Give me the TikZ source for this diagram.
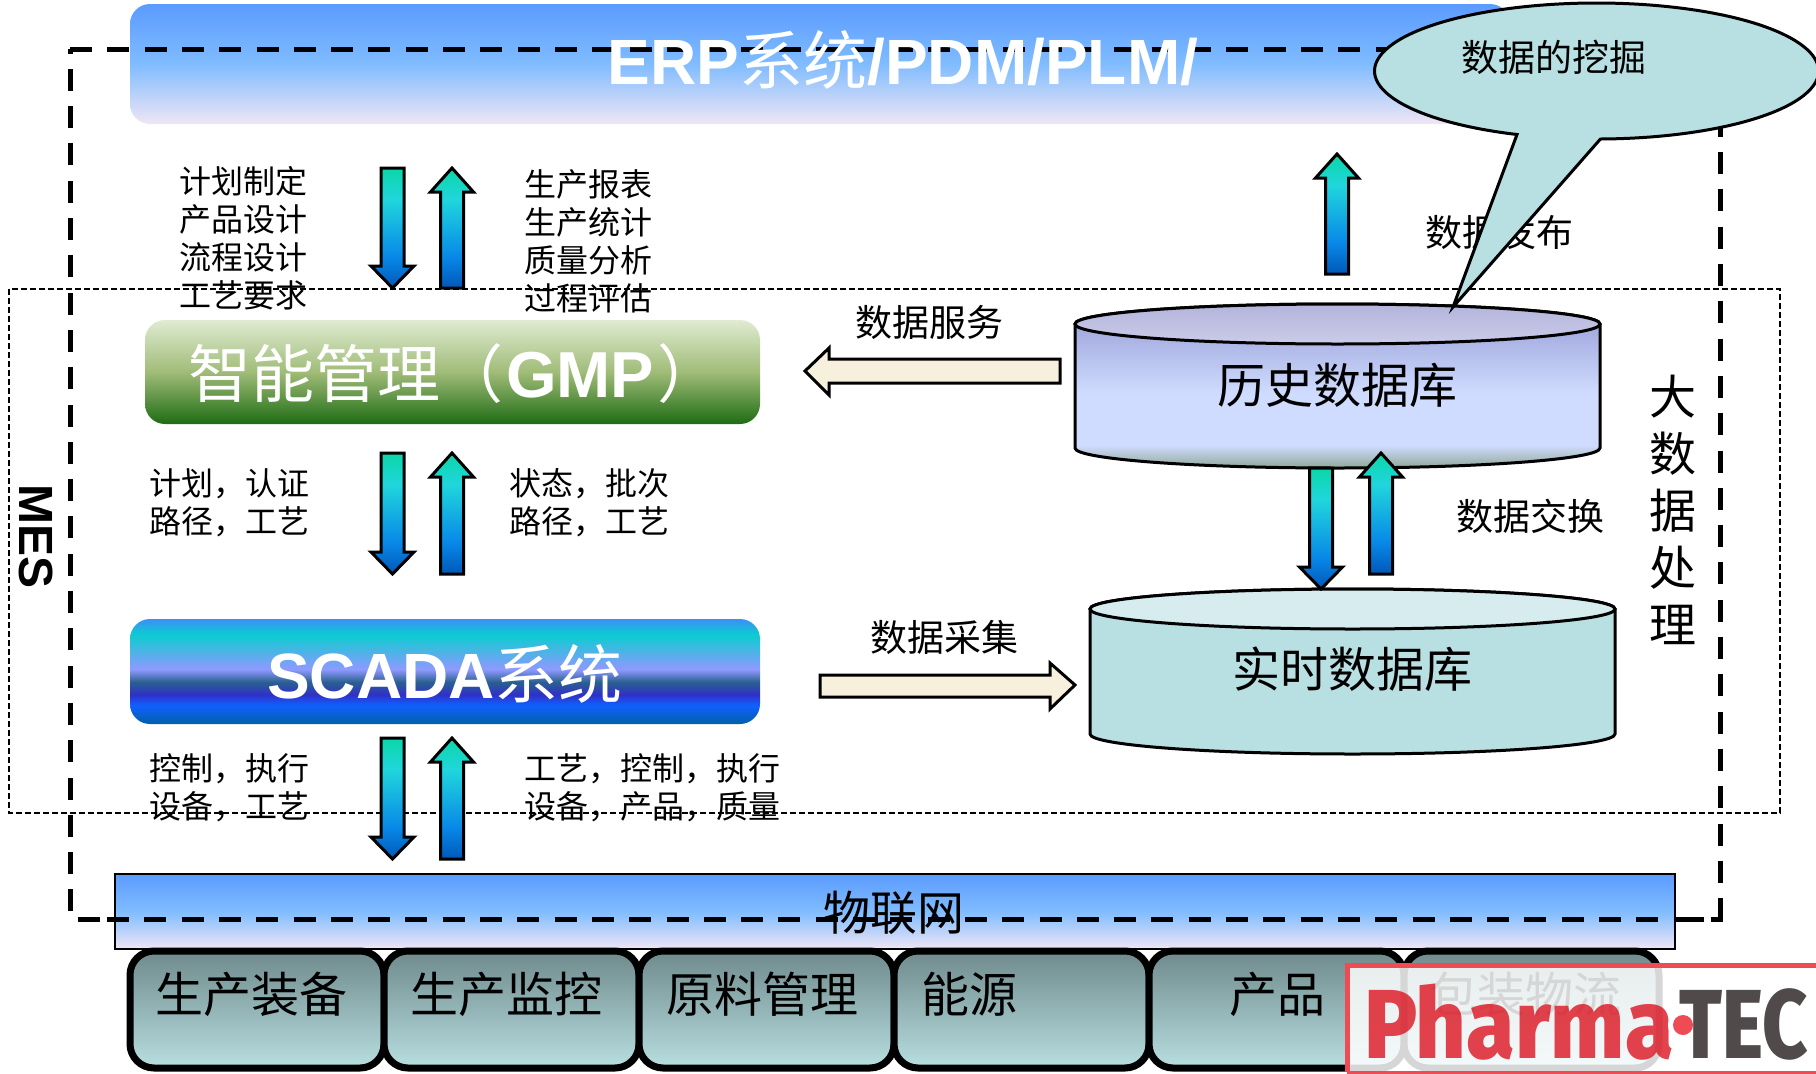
\documentclass[tikz,border=0pt]{standalone}
\usepackage{fontspec}
\newfontfamily\cjk{Noto Sans CJK SC}
\newfontfamily\lat{Liberation Sans}
\newfontfamily\wm{Fira Sans ExtraBold}
\definecolor{eA}{HTML}{5B9BFF}\definecolor{eB}{HTML}{80BCFF}\definecolor{eC}{HTML}{F0E6F5}
\pgfdeclareverticalshading{erpshade}{100bp}{color(0bp)=(eC);color(25bp)=(eC);color(50bp)=(eB);color(75bp)=(eA);color(100bp)=(eA)}
\definecolor{gA}{HTML}{E0EBD2}\definecolor{gB}{HTML}{A0BC78}\definecolor{gC}{HTML}{1E6C14}
\pgfdeclareverticalshading{gmpshade}{100bp}{color(0bp)=(gC);color(25bp)=(gC);color(50bp)=(gB);color(75bp)=(gA);color(100bp)=(gA)}
\definecolor{sA}{HTML}{3A90F8}\definecolor{sB}{HTML}{0CCCD0}\definecolor{sC}{HTML}{8F99FF}\definecolor{sD}{HTML}{2A6090}\definecolor{sE}{HTML}{3030C8}\definecolor{sF}{HTML}{1060FF}\definecolor{sG}{HTML}{0060A8}
\pgfdeclareverticalshading{scadashade}{100bp}{color(0bp)=(sG);color(25bp)=(sG);color(34bp)=(sF);color(39bp)=(sE);color(45bp)=(sD);color(51bp)=(sC);color(67.5bp)=(sB);color(75bp)=(sA);color(100bp)=(sA)}
\definecolor{aA}{HTML}{0BD6A8}\definecolor{aB}{HTML}{20D6DC}\definecolor{aC}{HTML}{0888E8}\definecolor{aD}{HTML}{0058B8}
\pgfdeclareverticalshading{arrowshade}{100bp}{color(0bp)=(aD);color(25bp)=(aD);color(38bp)=(aC);color(62bp)=(aB);color(75bp)=(aA);color(100bp)=(aA)}
\definecolor{bA}{HTML}{6F8A8C}\definecolor{bB}{HTML}{B8DFE1}
\pgfdeclareverticalshading{boxshade}{100bp}{color(0bp)=(bB);color(25bp)=(bB);color(75bp)=(bA);color(100bp)=(bA)}
\definecolor{cA}{HTML}{A0A8DC}\definecolor{cB}{HTML}{D0DCFF}\definecolor{cC}{HTML}{90A898}
\pgfdeclareverticalshading{histshade}{100bp}{color(0bp)=(cC);color(25bp)=(cC);color(32bp)=(cB);color(47.5bp)=(cB);color(69bp)=(cA);color(100bp)=(cA)}
\definecolor{cD}{HTML}{B4B4DC}\definecolor{cE}{HTML}{CACCE8}
\pgfdeclareverticalshading{histtop}{100bp}{color(0bp)=(cE);color(25bp)=(cE);color(75bp)=(cD);color(100bp)=(cD)}
\definecolor{hA}{HTML}{F7F0DC}\definecolor{hB}{HTML}{F0E8C8}
\definecolor{tealfill}{HTML}{B8DFE1}\definecolor{tealtop}{HTML}{D6ECEE}
\definecolor{wmred}{HTML}{DC0F1C}\definecolor{wmgrey}{HTML}{504A4A}\definecolor{wmline}{HTML}{EE4B55}
\tikzset{
  blk/.style={font=\cjk\fontsize{#1}{#1}\selectfont,inner sep=0pt,text=black},
  lst/.style={font=\cjk\fontsize{32}{38}\selectfont,align=left,anchor=west,inner sep=0pt,text=black},
  blockarrow/.style={draw=black,line width=3pt,shading=arrowshade,line join=miter},
  hollow/.style={draw=black,line width=3pt,fill=hA,line join=miter},
  thickdash/.style={draw=black,line width=5pt,dash pattern=on 22pt off 15.3pt},
  thindash/.style={draw=black,line width=2.2pt,dash pattern=on 6pt off 3pt},
  botbox/.style={draw=black,line width=7pt,rounded corners=24pt,shading=boxshade},
  botlabel/.style={font=\cjk\fontsize{48}{48}\selectfont,anchor=west,inner sep=0pt,text=black}
}
\newcommand{\dnarrow}[3]{\shadedraw[blockarrow] ({#1-11.5},#2) -- ({#1+11.5},#2) -- ({#1+11.5},{#3-22}) -- ({#1+21.5},{#3-22}) -- (#1,#3) -- ({#1-21.5},{#3-22}) -- ({#1-11.5},{#3-22}) -- cycle;}
\newcommand{\uparrowblk}[3]{\shadedraw[blockarrow] ({#1-11.5},#3) -- ({#1+11.5},#3) -- ({#1+11.5},{#2+24}) -- ({#1+21.5},{#2+24}) -- (#1,#2) -- ({#1-21.5},{#2+24}) -- ({#1-11.5},{#2+24}) -- cycle;}
\begin{document}
\begin{tikzpicture}[x=1pt,y=-1pt]
\useasboundingbox (0,0) rectangle (1816,1074);
\clip (0,0) rectangle (1816,1074);
% top band
\shade[shading=erpshade,rounded corners=20pt] (130,4) rectangle (1510,124);
\draw[thickdash] (70,49) -- (1720,49) -- (1720,919) -- (70,919) -- cycle;
\node[font=\lat\bfseries\fontsize{64}{64}\selectfont,text=white,inner sep=0pt] (erp) at (903,60) {ERP{\cjk\mdseries 系统}/PDM/PLM/};
% lists
\node[lst] (l1) at (179,238) {计划制定\\产品设计\\流程设计\\工艺要求};
\node[lst] (r1) at (524,241) {生产报表\\生产统计\\质量分析\\过程评估};
\dnarrow{392.5}{168}{288}
\uparrowblk{452}{168}{288}
\draw[thindash] (9,289) rectangle (1780,813);
% GMP
\shade[shading=gmpshade,rounded corners=20pt] (145,320) rectangle (760,424);
\node[font=\cjk\fontsize{63}{63}\selectfont,text=white,anchor=west,inner sep=0pt] (gmp) at (188,374) {智能管理（\hspace{3pt}{\lat\bfseries\fontsize{65}{65}\selectfont GMP}\hspace{3pt}）};
\node[lst] (l2) at (149,503) {计划，认证\\路径，工艺};
\node[lst] (r2) at (509,503) {状态，批次\\路径，工艺};
\dnarrow{392.5}{453}{574}
\uparrowblk{452}{453}{574}
% SCADA
\shade[shading=scadashade,rounded corners=20pt] (130,619) rectangle (760,724);
\node[font=\lat\bfseries\fontsize{64}{64}\selectfont,text=white,inner sep=0pt] (scada) at (445,674) {SCADA{\cjk\mdseries 系统}};
\node[lst] (l3) at (149,788) {控制，执行\\设备，工艺};
\node[lst] (r3) at (524,788) {工艺，控制，执行\\设备，产品，质量};
\dnarrow{392.5}{738}{859}
\uparrowblk{452}{738}{859}
% hollow arrows
\draw[hollow] (805,371) -- (829,348) -- (829,359) -- (1060,359) -- (1060,383) -- (829,383) -- (829,395) -- cycle;
\draw[hollow] (1075,685) -- (1050,663) -- (1050,675) -- (820,675) -- (820,697) -- (1050,697) -- (1050,709) -- cycle;
\node[blk=37] (fw) at (929,322) {数据服务};
\node[blk=37] (cj) at (944,637) {数据采集};
% publish
\uparrowblk{1337}{154}{274}
\node[blk=37] (fb) at (1499,232) {数据发布};
% history DB
\shadedraw[draw=black,line width=3pt,shading=histshade] (1075,324) -- (1075,448) arc[start angle=180,end angle=0,x radius=262.5,y radius=20] -- (1600,324) arc[start angle=0,end angle=-180,x radius=262.5,y radius=20] -- cycle;
\shadedraw[draw=black,line width=3pt,shading=histtop] (1337.5,324) ellipse[x radius=262.5,y radius=20];
\node[blk=48] (hist) at (1337,385) {历史数据库};
% realtime DB
\draw[draw=black,line width=3pt,fill=tealfill] (1090,609) -- (1090,734) arc[start angle=180,end angle=0,x radius=262.5,y radius=20] -- (1615,609) arc[start angle=0,end angle=-180,x radius=262.5,y radius=20] -- cycle;
\draw[draw=black,line width=3pt,fill=tealtop] (1352.5,609) ellipse[x radius=262.5,y radius=20];
\node[blk=48] (rt) at (1352,669) {实时数据库};
\dnarrow{1321}{468}{589}
\uparrowblk{1381}{453}{574}
\node[blk=37] (jh) at (1530,516) {数据交换};
% vertical text
\node[font=\cjk\fontsize{47}{57}\selectfont,align=center,inner sep=0pt] (dsj) at (1673,510) {大\\数\\据\\处\\理};
\node[font=\lat\bfseries\fontsize{48}{48}\selectfont,rotate=-90,inner sep=0pt] (mes) at (36,537) {MES};
% callout
\draw[draw=black,line width=3pt,fill=tealfill,line join=miter] (1517,134.5) arc[start angle=111,end angle=449,x radius=222,y radius=68] -- (1453,307) -- cycle;
\node[blk=37] (wj) at (1554,57) {数据的挖掘};
% IoT band
\shadedraw[draw=black,line width=2pt,shading=erpshade] (115,874) rectangle (1675,949);
\node[blk=47] (iot) at (894,913) {物联网};
\draw[thickdash] (107,919) -- (1720,919);
% bottom boxes
\shadedraw[botbox] (130,951) rectangle (384,1068);
\shadedraw[botbox] (384,951) rectangle (639,1068);
\shadedraw[botbox] (639,951) rectangle (894,1068);
\shadedraw[botbox] (894,951) rectangle (1149,1068);
\shadedraw[botbox] (1149,951) rectangle (1404,1068);
\shadedraw[botbox] (1404,951) rectangle (1659,1068);
\node[botlabel] (b1) at (155,994) {生产装备};
\node[botlabel] (b2) at (410,994) {生产监控};
\node[botlabel] (b3) at (666,994) {原料管理};
\node[botlabel] (b4) at (921,994) {能源};
\node[botlabel] (b5) at (1229,994) {产品};
\node[botlabel] (b6) at (1429,994) {包装物流};
% watermark
\fill[white,fill opacity=.84] (1347,965) rectangle (1816,1074);
\draw[wmline,line width=5pt] (1347,1072) -- (1347,965.5) -- (1816,965.5);
\draw[wmline,line width=3pt] (1347,1072.5) -- (1816,1072.5);
\node[font=\wm\fontsize{98}{98}\selectfont,text=wmred,text opacity=.78,anchor=base west,inner sep=0pt,xscale=.9,transform shape] (pharma) at (1364,1058) {Pharma};
\fill[white] (1683,1025) circle[radius=15];
\fill[wmline] (1683,1025) circle[radius=10];
\node[font=\wm\fontsize{98}{98}\selectfont,text=wmgrey,anchor=base west,inner sep=0pt,xscale=.8,transform shape] (tec) at (1679,1058) {TEC};
\end{tikzpicture}
\end{document}
